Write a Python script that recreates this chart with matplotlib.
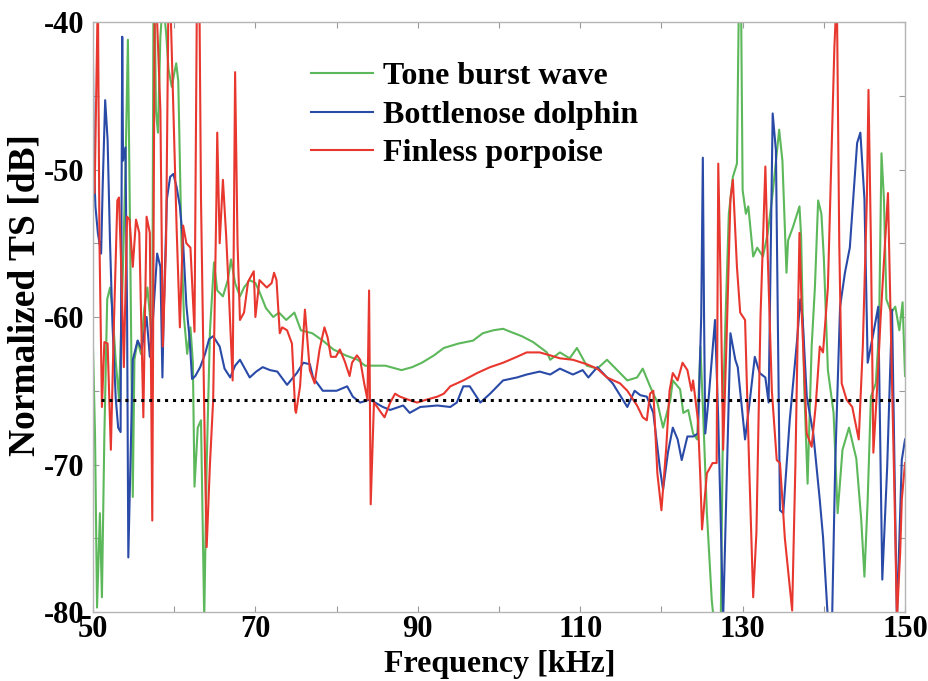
import matplotlib
matplotlib.use('Agg')
import matplotlib.pyplot as plt
from matplotlib.font_manager import FontProperties

plt.rcParams['axes.unicode_minus'] = False

# ---------------- data (frequency kHz, normalized TS dB) ----------------
tone_burst = [
    (50.0, -62.0), (50.25, -68.0), (50.5, -79.7), (50.85, -73.3), (51.1, -79.0), (51.4, -68.0),
    (51.75, -58.8), (52.1, -58.0), (52.4, -59.5), (52.8, -63.0), (53.2, -65.5), (53.6, -58.5),
    (54.0, -50.0), (54.3, -41.2), (54.6, -56.0), (54.9, -72.2), (55.1, -62.9), (55.5, -61.6),
    (55.9, -62.5), (56.3, -59.5), (56.7, -58.0), (57.1, -60.5), (57.3, -61.5), (57.45, -38.0),
    (57.6, -39.0), (57.75, -46.0), (58.0, -47.5), (58.3, -41.0), (58.6, -38.5), (59.0, -40.7),
    (59.3, -43.2), (59.7, -44.4), (60.0, -43.5), (60.25, -42.8), (60.5, -44.0), (60.9, -55.0),
    (61.2, -60.0), (61.6, -62.5), (62.0, -60.7), (62.3, -63.1), (62.5, -71.5), (62.9, -67.5),
    (63.3, -67.0), (63.7, -80.5), (64.0, -70.0), (64.4, -61.0), (64.9, -56.3), (65.3, -58.2),
    (66.0, -58.6), (66.6, -57.5), (67.0, -56.1), (67.5, -57.7), (68.1, -58.6), (68.6, -58.0),
    (69.3, -57.5), (70.0, -57.7), (70.5, -58.3), (71.3, -59.4), (72.2, -60.0), (72.9, -59.7),
    (73.8, -60.2), (74.8, -59.7), (75.6, -60.9), (77.0, -61.1), (78.3, -61.6), (79.6, -62.2),
    (81.1, -62.6), (82.6, -62.9), (83.5, -63.3), (86.0, -63.3), (88.0, -63.6), (89.3, -63.4),
    (90.5, -63.1), (92.0, -62.6), (93.2, -62.1), (95.0, -61.8), (96.8, -61.6), (98.0, -61.1),
    (99.3, -60.9), (100.5, -60.8), (101.4, -61.0), (102.8, -61.3), (104.2, -61.7), (105.9, -62.4),
    (106.3, -62.9), (107.5, -62.4), (108.7, -62.8), (109.6, -62.1), (110.8, -63.3), (112.1, -63.5),
    (113.3, -62.9), (114.9, -63.8), (115.8, -64.3), (117.0, -64.1), (117.7, -63.5), (118.6, -64.7),
    (119.5, -65.8), (120.2, -67.5), (121.1, -65.6), (121.4, -64.3), (122.3, -64.9), (122.7, -66.5),
    (123.3, -66.3), (123.9, -67.9), (124.4, -68.3), (124.8, -62.0), (125.1, -66.0), (125.6, -73.3),
    (126.2, -79.2), (126.7, -82.0), (127.3, -81.0), (127.6, -66.0), (127.9, -60.0), (128.3, -53.0),
    (128.8, -50.5), (129.3, -49.6), (129.55, -38.0), (129.8, -38.0), (130.0, -51.4), (130.4, -53.0),
    (130.7, -52.5), (131.3, -55.9), (131.8, -55.3), (132.5, -55.9), (133.1, -54.3), (133.7, -51.6),
    (134.5, -47.3), (134.9, -49.4), (135.4, -57.0), (135.6, -54.8), (136.2, -53.9), (137.0, -52.5),
    (137.2, -54.5), (137.6, -65.0), (138.0, -71.3), (138.5, -62.0), (138.9, -58.0), (139.3, -52.1),
    (139.7, -53.0), (140.0, -56.0), (140.5, -63.6), (141.2, -66.5), (141.7, -73.3), (142.3, -69.0),
    (143.1, -67.5), (144.0, -69.6), (144.6, -73.7), (145.0, -77.6), (145.4, -72.4), (145.8, -65.4),
    (146.4, -64.5), (146.8, -60.9), (147.1, -48.9), (147.4, -52.0), (147.7, -58.8), (148.3, -59.7),
    (148.8, -59.3), (149.3, -60.9), (149.7, -59.0), (150.0, -64.0),
]

bottlenose = [
    (50.0, -42.8), (50.1, -49.5), (50.3, -52.5), (50.6, -54.3), (51.0, -55.7), (51.2, -51.0),
    (51.5, -45.3), (51.8, -48.0), (52.1, -55.0), (52.4, -60.5), (52.8, -65.5), (53.1, -67.5),
    (53.4, -67.8), (53.5, -55.0), (53.6, -41.0), (53.7, -49.4), (54.0, -48.5), (54.2, -60.0),
    (54.35, -76.3), (54.9, -62.9), (55.5, -61.6), (56.0, -62.2), (56.6, -60.0), (57.0, -62.7),
    (57.4, -60.0), (57.9, -55.7), (58.3, -56.6), (58.55, -64.1), (58.7, -60.0), (59.1, -52.0),
    (59.5, -50.5), (59.9, -50.3), (60.3, -51.2), (60.7, -52.5), (61.1, -55.0), (61.5, -59.2),
    (61.9, -61.5), (62.2, -64.2), (62.6, -64.0), (63.2, -63.4), (63.8, -62.5), (64.3, -61.5),
    (64.8, -61.3), (65.6, -62.0), (66.2, -63.5), (66.9, -64.1), (67.5, -63.3), (68.1, -62.9),
    (68.7, -63.5), (69.3, -64.1), (70.1, -63.7), (70.9, -63.4), (71.8, -63.6), (72.7, -63.7),
    (73.9, -64.6), (74.5, -64.2), (75.1, -63.8), (75.9, -63.1), (76.7, -63.2), (77.1, -64.1),
    (78.3, -65.0), (80.0, -65.0), (81.3, -64.7), (82.0, -65.4), (82.9, -65.8), (84.1, -65.6),
    (85.7, -66.1), (86.6, -66.3), (88.2, -66.0), (89.0, -66.5), (90.3, -66.1), (92.4, -66.0),
    (94.0, -66.1), (94.8, -65.8), (95.6, -64.7), (96.4, -64.7), (97.7, -65.8), (98.9, -65.2),
    (100.5, -64.3), (102.2, -64.1), (103.4, -63.9), (105.0, -63.7), (106.3, -63.9), (107.5, -63.5),
    (109.1, -63.9), (110.3, -63.6), (111.0, -64.1), (112.1, -63.4), (113.3, -64.1), (114.0, -64.5),
    (114.9, -65.3), (115.8, -66.1), (116.7, -65.0), (117.4, -65.3), (118.2, -65.4), (119.0, -66.5),
    (119.8, -70.2), (120.2, -71.7), (120.8, -69.2), (121.4, -67.5), (122.0, -68.3), (122.5, -69.7),
    (123.2, -68.1), (123.9, -68.1), (124.5, -67.9), (124.9, -60.0), (125.1, -49.2), (125.25, -60.0),
    (125.4, -67.9), (125.8, -65.6), (126.6, -60.2), (127.0, -67.0), (127.6, -80.5), (128.0, -72.0),
    (128.5, -61.1), (129.1, -62.9), (129.4, -63.4), (130.3, -68.3), (130.9, -65.6), (131.5, -62.7),
    (132.1, -63.8), (132.8, -64.1), (133.2, -65.8), (133.7, -46.2), (134.1, -48.7), (134.6, -73.1),
    (135.0, -73.3), (135.8, -67.0), (136.7, -61.6), (137.1, -58.8), (137.4, -60.2), (137.9, -65.4),
    (138.7, -67.9), (139.5, -72.4), (139.9, -74.9), (140.5, -80.5), (141.0, -81.0), (141.4, -70.0),
    (142.0, -59.3), (142.6, -57.0), (143.2, -55.3), (144.1, -48.2), (144.5, -47.5), (145.0, -52.0),
    (145.4, -63.1), (146.1, -61.1), (146.7, -59.3), (147.2, -77.8), (147.8, -70.2), (148.4, -59.5),
    (149.0, -80.5), (149.6, -69.7), (150.0, -68.3),
]

finless = [
    (50.0, -49.4), (50.2, -51.6), (50.6, -38.0), (50.8, -55.0), (51.1, -66.1), (51.4, -61.7),
    (51.8, -61.8), (52.2, -69.0), (52.6, -60.0), (53.0, -52.1), (53.2, -51.9), (53.5, -57.0),
    (53.8, -63.4), (54.2, -53.2), (54.5, -53.4), (54.9, -56.6), (55.3, -53.4), (55.7, -54.3),
    (56.2, -66.8), (56.6, -53.2), (57.0, -54.3), (57.3, -73.8), (57.6, -38.0), (57.9, -40.0),
    (58.3, -46.0), (58.6, -62.0), (59.0, -55.0), (59.3, -38.0), (59.6, -40.0), (59.9, -46.0),
    (60.3, -54.0), (60.7, -60.7), (61.1, -53.8), (61.5, -55.0), (62.0, -55.3), (62.5, -61.0),
    (62.8, -38.0), (63.1, -38.0), (63.3, -52.0), (63.8, -70.0), (64.0, -75.6), (64.4, -70.0),
    (64.8, -65.6), (65.2, -52.0), (65.3, -47.5), (65.6, -55.0), (66.0, -50.7), (66.4, -54.5),
    (66.7, -58.0), (67.2, -64.3), (67.5, -43.4), (67.8, -55.0), (68.1, -60.2), (68.6, -59.7),
    (69.1, -57.6), (69.8, -56.9), (70.0, -60.0), (70.5, -57.5), (71.4, -58.0), (72.0, -57.7),
    (72.3, -57.0), (72.6, -57.5), (73.0, -61.1), (73.3, -60.7), (73.9, -60.9), (74.5, -61.8),
    (74.9, -66.3), (75.0, -66.5), (75.5, -64.7), (76.1, -59.5), (76.7, -63.6), (77.3, -64.5),
    (77.9, -62.2), (78.5, -60.7), (78.9, -61.4), (79.3, -62.7), (79.9, -62.7), (80.4, -62.2),
    (81.0, -63.0), (81.6, -64.0), (81.9, -63.1), (82.5, -62.6), (82.9, -62.9), (83.4, -64.5),
    (83.8, -65.6), (84.0, -58.2), (84.2, -72.7), (84.6, -65.8), (85.0, -66.1), (85.5, -66.5),
    (85.9, -66.8), (86.6, -65.8), (87.2, -65.2), (87.8, -65.4), (88.8, -65.6), (89.9, -65.8),
    (91.1, -65.6), (92.4, -65.4), (93.2, -65.2), (94.0, -64.7), (95.6, -64.3), (97.3, -63.8),
    (98.9, -63.4), (100.5, -63.1), (102.2, -62.7), (103.4, -62.4), (105.0, -62.4), (106.3, -62.6),
    (107.5, -62.8), (109.1, -62.9), (110.8, -63.2), (112.1, -63.5), (113.3, -64.1), (114.9, -64.5),
    (115.8, -65.0), (117.0, -66.0), (117.7, -66.8), (118.2, -67.0), (118.6, -65.2), (119.0, -65.0),
    (119.5, -70.6), (120.0, -73.1), (120.6, -68.8), (121.0, -65.0), (121.4, -63.8), (122.0, -64.3),
    (122.6, -63.1), (123.2, -63.6), (123.7, -65.0), (123.9, -64.3), (124.5, -67.0), (124.8, -71.0),
    (125.0, -74.4), (125.6, -70.6), (126.3, -69.9), (126.8, -69.9), (127.0, -49.6), (127.3, -58.0),
    (127.6, -69.0), (128.0, -62.0), (128.5, -52.0), (128.8, -50.7), (129.3, -56.6), (129.7, -59.7),
    (130.3, -60.2), (130.8, -70.0), (131.3, -79.0), (131.7, -74.6), (132.2, -60.0), (132.8, -49.8),
    (133.1, -56.0), (133.6, -65.0), (134.2, -69.7), (134.6, -69.9), (135.2, -75.0), (136.1, -79.9),
    (136.5, -70.0), (137.0, -54.3), (137.3, -60.0), (137.9, -67.9), (138.5, -68.8), (139.0, -66.0),
    (139.5, -62.0), (139.9, -62.4), (140.5, -58.0), (141.3, -41.7), (141.6, -38.0), (141.9, -55.0),
    (142.2, -64.5), (142.8, -65.6), (143.5, -66.1), (144.3, -68.3), (144.8, -62.0), (145.3, -52.0),
    (145.5, -44.6), (145.8, -55.0), (146.1, -69.2), (146.6, -64.5), (147.0, -60.0), (147.9, -51.6),
    (148.3, -62.0), (148.7, -72.0), (149.0, -80.5), (149.4, -76.0), (149.6, -72.4), (150.0, -69.9),
]

series_labels = ['Tone burst wave', 'Bottlenose dolphin', 'Finless porpoise']
series_colors = ['#5cb85a', '#2a4aa8', '#e8372e']

ref_level = -65.6
ref_span = [51.0, 149.3]

x_major = [50, 70, 90, 110, 130, 150]
x_minor = [60, 80, 100, 120, 140]
y_major = [-80, -70, -60, -50, -40]
y_minor = [-75, -65, -55, -45]

# ---------------- figure ----------------
fig = plt.figure(figsize=(9.29, 6.81), dpi=100)
ax = fig.add_axes([0.1001, 0.1013, 0.8741, 0.8664])

for data, lab, col in zip([tone_burst, bottlenose, finless], series_labels, series_colors):
    f = [p[0] for p in data]
    v = [p[1] for p in data]
    ax.plot(f, v, color=col, lw=1.5, label=lab)

ax.plot(ref_span, [ref_level, ref_level], color='black', lw=2.2,
        ls=(0, (1, 1.6)))

ax.set_xlim(50, 150)
ax.set_ylim(-80, -40)

tick_font = FontProperties(family='Liberation Serif', weight='bold', size=22)
ax.set_xticks(x_major)
ax.set_xticks(x_minor, minor=True)
ax.set_yticks(y_major)
ax.set_yticks(y_minor, minor=True)
ax.set_xticklabels([str(v) for v in x_major], fontproperties=tick_font)
ax.set_yticklabels([str(v) for v in y_major], fontproperties=tick_font)

ax.tick_params(which='both', direction='in', length=4, width=0.8, color='#9a9a9a',
               top=True, right=True)
ax.tick_params(axis='x', which='major', pad=2)
ax.tick_params(axis='y', which='major', pad=6)

for s in ax.spines.values():
    s.set_color('#b5b5b5')
    s.set_linewidth(1.0)

ax.set_xlabel('Frequency [kHz]', fontproperties=FontProperties(family='Liberation Serif', weight='bold', size=23))
ax.set_ylabel('Normalized TS [dB]', fontproperties=FontProperties(family='Liberation Serif', weight='bold', size=27))
ax.xaxis.set_label_coords(0.501, -0.064)
ax.yaxis.set_label_coords(-0.062, 0.537)

ax.legend(loc='upper left', bbox_to_anchor=(0.268, 0.932), frameon=False,
          prop=FontProperties(family='Liberation Serif', weight='bold', size=23),
          handlelength=1.95, handletextpad=0.33, labelspacing=0.28,
          borderpad=0, borderaxespad=0)

fig.savefig('out.png', dpi=100)
